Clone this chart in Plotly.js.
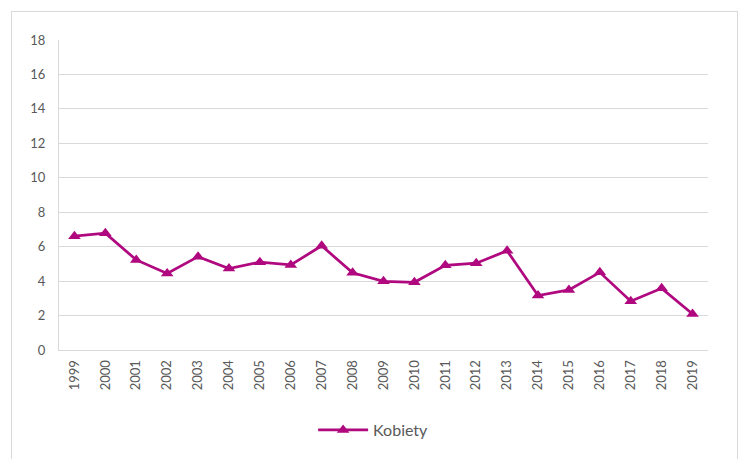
<!DOCTYPE html>
<html>
<head>
<meta charset="utf-8">
<script src="https://cdn.plot.ly/plotly-3.0.1.min.js"></script>
<style>
html,body{margin:0;padding:0;background:#fff;}
#wrap{position:relative;width:739px;height:459px;overflow:hidden;}
#chart{position:absolute;left:0;top:0;width:739px;height:459px;}
#frame{position:absolute;left:11px;top:11px;width:725px;height:470px;border:1px solid #d9d9d9;pointer-events:none;}
</style>
</head>
<body>
<div id="wrap"><div id="chart"></div><div id="frame"></div></div>
<script>
const years = ['1999','2000','2001','2002','2003','2004','2005','2006','2007','2008','2009','2010','2011','2012','2013','2014','2015','2016','2017','2018','2019'];
const kobiety = [6.61,6.78,5.23,4.44,5.42,4.73,5.10,4.94,6.05,4.48,3.99,3.93,4.92,5.04,5.76,3.16,3.49,4.51,2.83,3.58,2.09];
const yTicks = [0,2,4,6,8,10,12,14,16,18];

const color = '#b0087f';
const trace = {
  x: years, y: kobiety, type: 'scatter', mode: 'lines+markers', name: 'Kobiety',
  line: {color: color, width: 2.75},
  marker: {symbol: 'triangle-up', size: 11, color: color}
};
const layout = {
  width: 739, height: 459,
  margin: {l: 59, r: 31, t: 40, b: 109},
  paper_bgcolor: 'rgba(0,0,0,0)', plot_bgcolor: '#fff',
  font: {family: 'Lato, "Open Sans", sans-serif', size: 13, color: '#595959'},
  xaxis: {
    type: 'category', range: [-0.5, years.length - 0.5], tickangle: -90, showgrid: false, showline: true,
    linecolor: '#d9d9d9', linewidth: 1, ticks: '', ticklabelstandoff: 4,
    tickfont: {size: 13, color: '#595959'}, fixedrange: true, zeroline: false
  },
  yaxis: {
    range: [0, 18], tickvals: yTicks, ticktext: yTicks.map(String), showgrid: true, gridcolor: '#d9d9d9', gridwidth: 1,
    showline: true, linecolor: '#d9d9d9', linewidth: 1, ticks: '', ticklen: 0, ticklabelstandoff: 10,
    tickfont: {size: 13, color: '#595959'}, zeroline: false, fixedrange: true
  },
  showlegend: true,
  legend: {orientation: 'h', x: 0.484, xanchor: 'center', y: -0.258, yanchor: 'middle', itemwidth: 50, font: {size: 16, color: '#595959'}},
};
Plotly.newPlot('chart', [trace], layout, {displayModeBar: false, staticPlot: true});
</script>
</body>
</html>
